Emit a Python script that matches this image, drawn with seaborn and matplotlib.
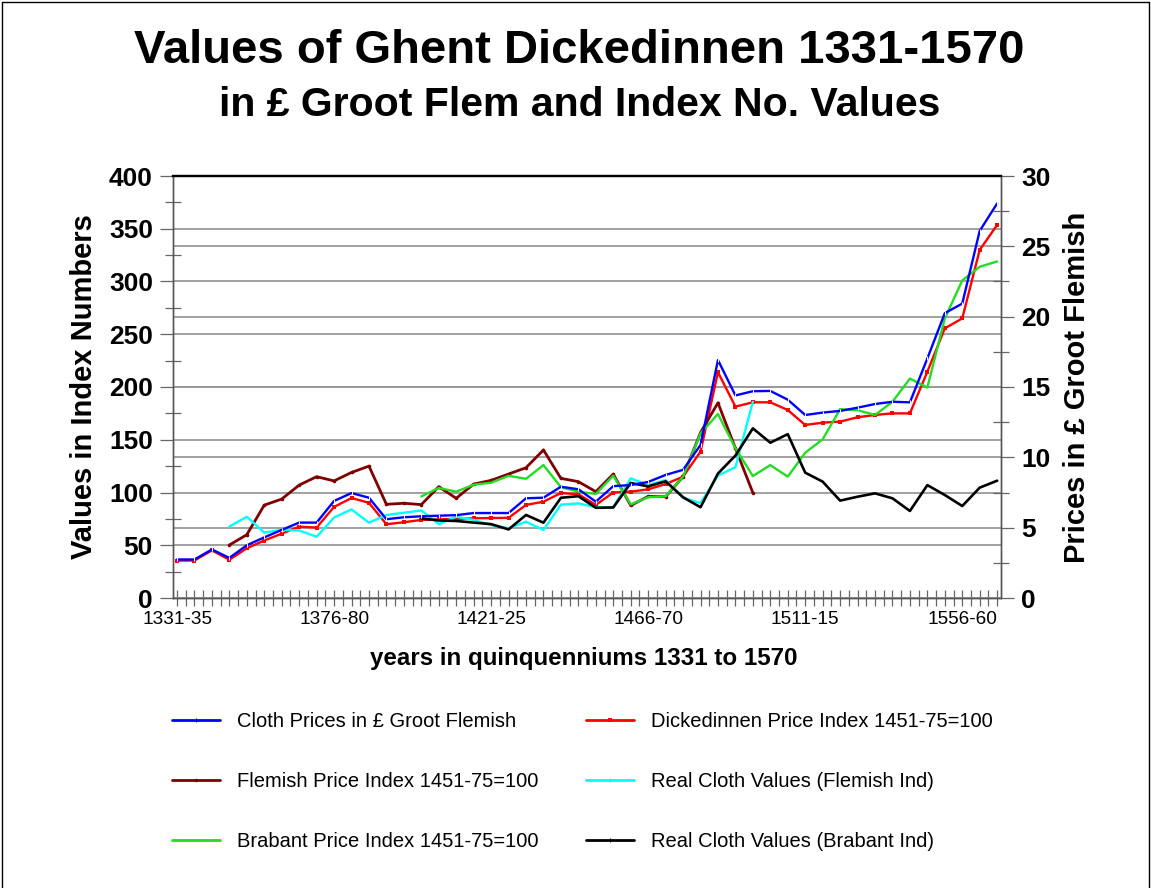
import numpy as np
import pandas as pd
import matplotlib
matplotlib.use("Agg")
import matplotlib.pyplot as plt
import seaborn as sns
from matplotlib.ticker import MultipleLocator, FixedLocator, FixedFormatter
from matplotlib.lines import Line2D

# ---------------- data ----------------
starts = list(range(1331, 1570, 5))  # 48 quinquennia
periods = [f"{s}-{str(s + 4)[-2:]}" for s in starts]
tick_periods = ["1331-35", "1376-80", "1421-25", "1466-70", "1511-15", "1556-60"]

nan = np.nan
# Cloth prices in £ groot Flemish (right axis)
cloth_price = [2.74, 2.74, 3.45, 2.85, 3.75, 4.31, 4.84, 5.36, 5.36, 6.90, 7.46, 7.13,
               5.60, 5.74, 5.81, 5.85, 5.89, 6.04, 6.04, 6.04, 7.09, 7.13, 7.91, 7.73,
               6.85, 7.95, 8.03, 8.25, 8.75, 9.11, 10.88, 16.92, 14.40, 14.70, 14.72, 14.10,
               13.01, 13.18, 13.30, 13.53, 13.79, 13.95, 13.91, 17.03, 20.25, 20.93, 26.10, 28.05]
# Dickedinnen price index 1451-75=100
dick_index = [35.5, 35.5, 45.1, 36.3, 47.1, 54.5, 61.0, 67.6, 66.8, 86.3, 94.8, 90.2,
              69.9, 71.8, 74.0, 74.5, 75.0, 75.5, 75.8, 76.0, 88.2, 91.3, 99.5, 98.4,
              88.2, 100.0, 100.8, 103.0, 108.0, 115.0, 138.7, 214.0, 181.4, 185.5, 185.5, 178.2,
              164.0, 166.2, 167.2, 171.3, 173.5, 175.0, 175.0, 214.5, 255.6, 265.0, 330.0, 353.6]
# Flemish price index 1451-75=100
flem_index = [nan, nan, nan, 50.2, 60.0, 88.0, 93.8, 107.0, 115.0, 111.0, 119.0, 125.0,
              88.8, 89.8, 88.5, 105.5, 94.5, 108.0, 111.5, 117.5, 123.5, 140.3, 113.4, 110.3,
              100.8, 117.4, 87.7, 96.3, 96.0, 115.0, 156.8, 185.0, 142.0, 99.8, nan, nan,
              nan, nan, nan, nan, nan, nan, nan, nan, nan, nan, nan, nan]
# Real cloth values (Flemish index)
real_flem = [nan, nan, nan, 67.7, 77.0, 62.0, 64.5, 64.0, 58.0, 76.3, 84.0, 71.4,
             78.7, 80.8, 83.0, 70.1, 77.0, 74.0, 69.2, 66.0, 72.3, 64.5, 88.5, 89.7,
             86.0, 86.0, 113.4, 107.0, 111.8, 95.0, 90.0, 116.0, 124.0, 186.0, nan, nan,
             nan, nan, nan, nan, nan, nan, nan, nan, nan, nan, nan, nan]
# Brabant price index 1451-75=100
brab_index = [nan, nan, nan, nan, nan, nan, nan, nan, nan, nan, nan, nan,
              nan, nan, 96.3, 104.3, 100.8, 107.4, 109.3, 115.8, 113.0, 126.0, 105.0, 100.8,
              98.6, 116.0, 88.7, 95.5, 96.3, 115.0, 156.0, 174.4, 142.0, 115.6, 126.0, 115.0,
              137.7, 150.4, 179.0, 178.0, 173.5, 186.0, 208.0, 199.5, 265.0, 301.0, 314.0, 319.0]
# Real cloth values (Brabant index)
real_brab = [nan, nan, nan, nan, nan, nan, nan, nan, nan, nan, nan, nan,
             nan, nan, 75.5, 73.5, 73.0, 71.5, 70.0, 65.0, 78.7, 71.4, 95.0, 96.5,
             85.5, 85.8, 109.0, 105.8, 110.6, 95.5, 86.0, 118.0, 135.0, 160.8, 147.2, 155.3,
             118.8, 110.3, 92.3, 96.0, 99.2, 94.5, 82.5, 107.0, 97.6, 87.2, 104.6, 111.2]

labels = ["Cloth Prices in £ Groot Flemish",
          "Dickedinnen Price Index 1451-75=100",
          "Flemish Price Index 1451-75=100",
          "Real Cloth Values (Flemish Ind)",
          "Brabant Price Index 1451-75=100",
          "Real Cloth Values (Brabant Ind)"]

# ---------------- style ----------------
sns.set_theme(style="white")
plt.rcParams["font.family"] = ["Liberation Sans", "DejaVu Sans"]
for key in ("text.color", "axes.labelcolor", "xtick.color", "ytick.color"):
    plt.rcParams[key] = "black"

W, H = 1151, 888
fig = plt.figure(figsize=(W / 100, H / 100), dpi=100)
fig.patch.set_facecolor("white")

L, R, T, B = 173, 1001, 176, 598
ax1 = fig.add_axes([L / W, 1 - B / H, (R - L) / W, (B - T) / H])
ax2 = ax1.twinx()

x = np.arange(len(periods))
df = pd.DataFrame({"x": x, "cloth": cloth_price, "dick": dick_index, "flem": flem_index,
                   "rflem": real_flem, "brab": brab_index, "rbrab": real_brab})

c_blue, c_red, c_brown, c_cyan, c_green, c_black = "#0000ff", "#ff0000", "#7f0000", "#00ffff", "#22dd22", "#000000"

sns.lineplot(data=df, x="x", y="dick", ax=ax1, color=c_red, lw=1.7, marker="s", ms=2.6, mew=0, zorder=3)
sns.lineplot(data=df, x="x", y="flem", ax=ax1, color=c_brown, lw=2.0, marker="o", ms=2.6, mew=0, zorder=3)
sns.lineplot(data=df, x="x", y="rflem", ax=ax1, color=c_cyan, lw=1.7, zorder=3)
sns.lineplot(data=df, x="x", y="brab", ax=ax1, color=c_green, lw=1.7, zorder=3)
sns.lineplot(data=df, x="x", y="rbrab", ax=ax1, color=c_black, lw=1.9, zorder=4)
sns.lineplot(data=df, x="x", y="cloth", ax=ax2, color=c_blue, lw=1.7, marker="|", ms=3, zorder=3)

# axes limits
ax1.set_xlim(-0.23, 47.22)
ax1.set_ylim(0, 400)
ax2.set_ylim(0, 30)

# grid lines
gcol = "#9a9a9a"
ax1.set_axisbelow(True)
ax1.yaxis.set_major_locator(MultipleLocator(50))
ax1.yaxis.set_minor_locator(FixedLocator(np.arange(25, 400, 50)))
ax1.grid(axis="y", which="major", color=gcol, lw=1.3)
ax1.grid(axis="x", visible=False)
ax2.yaxis.set_major_locator(MultipleLocator(5))
ax2.yaxis.set_minor_locator(FixedLocator(np.arange(2.5, 30, 5)))
ax2.grid(False)
for t in ax2.get_yticks():
    if 0 < t < 30:
        ax1.axhline(t * 400 / 30, color=gcol, lw=1.3, zorder=0.5)

# x ticks
xt = [periods.index(p) for p in tick_periods]
ax1.xaxis.set_major_locator(FixedLocator(xt))
ax1.xaxis.set_major_formatter(FixedFormatter(tick_periods))
ax1.xaxis.set_minor_locator(MultipleLocator(0.5))
ax1.tick_params(axis="x", which="both", direction="inout", length=12, width=0.9, color="#666666",
                bottom=True, pad=3, labelsize=13.7, labelcolor="black")

# y ticks
ax1.tick_params(axis="y", which="major", direction="out", length=9.5, width=0.9, color="#666666",
                left=True, pad=5, labelsize=19, labelcolor="black")
ax1.tick_params(axis="y", which="minor", direction="inout", length=12, width=0.9, color="#666666", left=True)
ax2.tick_params(axis="y", which="major", direction="out", length=9.5, width=0.9, color="#666666",
                right=True, pad=5, labelsize=19, labelcolor="black")
ax2.tick_params(axis="y", which="minor", direction="inout", length=12, width=0.9, color="#666666", right=True)
for lab in ax1.get_yticklabels() + ax2.get_yticklabels():
    lab.set_fontweight("bold")

# spines
for ax in (ax1, ax2):
    for s in ("left", "right", "bottom"):
        ax.spines[s].set_color("#555555")
        ax.spines[s].set_linewidth(1.0)
    ax.spines["top"].set_color("black")
    ax.spines["top"].set_linewidth(1.6)

# axis labels
ax1.set_xlabel("years in quinquenniums 1331 to 1570", fontsize=17.4, fontweight="bold", color="black")
ax1.xaxis.set_label_coords(0.496, -0.116)
ax1.set_ylabel("Values in Index Numbers", fontsize=21, fontweight="bold", color="black")
ax1.yaxis.set_label_coords(-0.090, 0.5)
ax2.set_ylabel("Prices in £ Groot Flemish", fontsize=21, fontweight="bold", rotation=90, color="black")
ax2.yaxis.set_label_coords(1.075, 0.5)

# titles
fig.text(0.503, 1 - 51 / H, "Values of Ghent Dickedinnen 1331-1570", ha="center", va="center",
         fontsize=34, fontweight="bold", color="black")
fig.text(0.504, 1 - 105 / H, "in £ Groot Flem and Index No. Values", ha="center", va="center",
         fontsize=29.5, fontweight="bold", color="black")

# legends (two columns)
cols = [c_blue, c_red, c_brown, c_cyan, c_green, c_black]
mk = ["|", "s", "o", "|", "", "|"]
handles = [Line2D([], [], color=c, lw=2.0, marker=m, ms=2.5, mew=0.8 if m == "|" else 0) for c, m in zip(cols, mk)]
lfs = 14.5
fs_px = lfs * 100 / 72
common = dict(frameon=False, loc="upper left", borderpad=0, borderaxespad=0,
              prop={"size": lfs},
              handlelength=48 / fs_px, handletextpad=17 / fs_px,
              labelspacing=(60 - fs_px * 1.2) / fs_px + 5 / fs_px)
top_y = 1 - (724 - fs_px * 0.6) / H
leg1 = fig.legend([handles[0], handles[2], handles[4]], [labels[0], labels[2], labels[4]],
                  bbox_to_anchor=(172 / W, top_y), labelcolor="black", **common)
leg2 = fig.legend([handles[1], handles[3], handles[5]], [labels[1], labels[3], labels[5]],
                  bbox_to_anchor=(586 / W, top_y), labelcolor="black", **common)

# figure border (left, top, right)
for xs, ys in (([0.002, 0.002], [0, 0.998]), ([0.002, 0.998], [0.998, 0.998]), ([0.998, 0.998], [0, 0.998])):
    fig.add_artist(Line2D(xs, ys, transform=fig.transFigure, color="black", lw=1.0))

fig.savefig("out.png", dpi=100, facecolor="white")
